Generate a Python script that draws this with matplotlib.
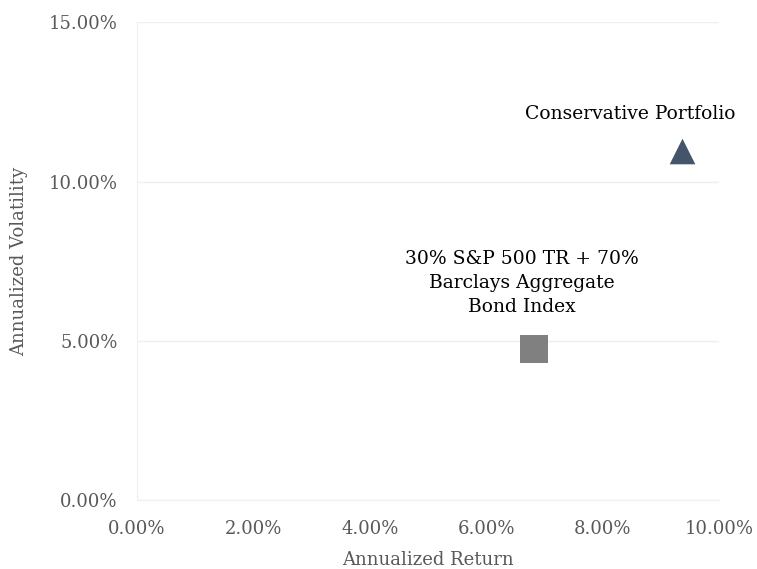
import matplotlib
matplotlib.use("Agg")
import matplotlib.pyplot as plt
from matplotlib.ticker import FuncFormatter, MultipleLocator

names = ["Conservative Portfolio", "30% S&P 500 TR + 70%\nBarclays Aggregate\nBond Index"]
returns = [9.36, 6.82]
vols = [10.97, 4.73]
markers = ["^", "s"]
sizes = [340, 380]
colors = ["#44546a", "#808080"]
label_offsets = [(-37, 20), (-9, 24)]

plt.rcParams['font.family'] = ['DejaVu Serif']
fig = plt.figure(figsize=(7.57, 5.69), dpi=100)
ax = fig.add_axes([0.181, 0.121, 0.769, 0.840])

for r, v, m, sz, c, n, off in zip(returns, vols, markers, sizes, colors, names, label_offsets):
    ax.scatter([r], [v], marker=m, s=sz, color=c, zorder=3, linewidths=0)
    ax.annotate(n, (r, v), xytext=off, textcoords="offset points", ha="center",
                va="bottom", fontsize=13.5, color="#000000", linespacing=1.45,
                multialignment="center")

ax.set_xlim(0, 10)
ax.set_ylim(0, 15)
ax.xaxis.set_major_locator(MultipleLocator(2))
ax.yaxis.set_major_locator(MultipleLocator(5))
fmt = FuncFormatter(lambda v, p: f"{v:.2f}%")
ax.xaxis.set_major_formatter(fmt)
ax.yaxis.set_major_formatter(fmt)
ax.grid(axis="y", color="#efefef", linewidth=1)
ax.set_axisbelow(True)
for s in ["top", "right"]:
    ax.spines[s].set_visible(False)
for s in ["left", "bottom"]:
    ax.spines[s].set_color("#efefef")
ax.tick_params(length=0, labelsize=13, labelcolor="#595959")
ax.tick_params(axis="y", pad=14)
ax.tick_params(axis="x", pad=14)
ax.set_xlabel("Annualized Return", fontsize=13, color="#595959", labelpad=10)
ax.set_ylabel("Annualized Volatility", fontsize=13, color="#595959", labelpad=15)

fig.savefig("out.png", dpi=100)
